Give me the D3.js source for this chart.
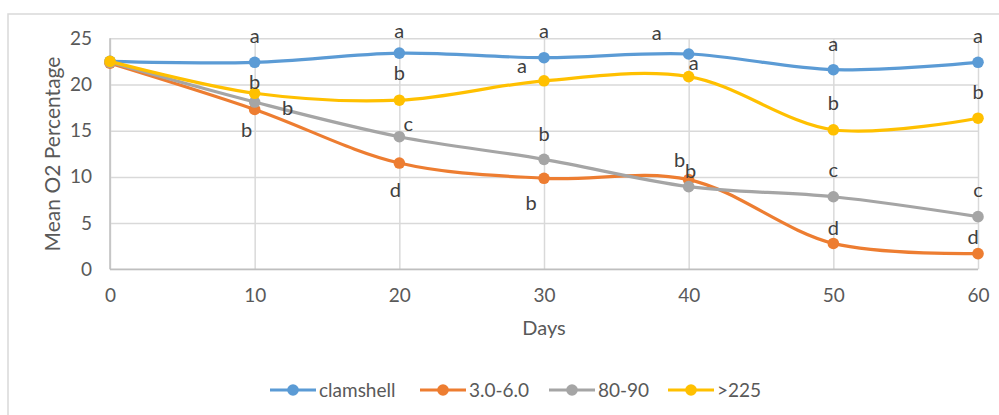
<!DOCTYPE html>
<html><head><meta charset="utf-8">
<script src="https://cdn.jsdelivr.net/npm/d3@7"></script>
<style>body{margin:0;background:#fff}svg{display:block}text{font-family:Lato,"Open Sans",sans-serif}</style>
</head><body><svg id="c" width="999" height="415"></svg>
<script>
const days = [0, 10, 20, 30, 40, 50, 60];
const seriesNames = ["clamshell", "3.0-6.0", "80-90", ">225"];
const clamshell = [22.5, 22.4, 23.4, 22.9, 23.3, 21.6, 22.4];
const size3to6 = [22.3, 17.3, 11.5, 9.85, 9.7, 2.8, 1.7];
const size80to90 = [22.4, 18.1, 14.35, 11.9, 8.95, 7.85, 5.7];
const sizeOver225 = [22.5, 19.05, 18.3, 20.4, 20.85, 15.1, 16.35];
const lettersClamshell = ["", "a", "a", "a", "a", "a", "a"];
const letters3to6 = ["", "b", "d", "b", "b", "d", "d"];
const letters80to90 = ["", "b", "c", "b", "b", "c", "c"];
const lettersOver225 = ["", "b", "b", "a", "a", "b", "b"];
const yTicks = [0, 5, 10, 15, 20, 25];
const xTicks = [0, 10, 20, 30, 40, 50, 60];

// layout / style (not data)
const colors = ["#5B9BD5", "#ED7D31", "#A5A5A5", "#FFC000"];
const labelOffsets = [
  [null, [0,-26], [0,-22], [0,-27], [-32,-21], [0,-26], [0,-26]],
  [null, [-8,21], [-4,27], [-13,25], [-9,-20], [0,-15], [-5,-17]],
  [null, [33,6], [9,-13], [0,-25], [2,-16], [0,-27], [0,-27]],
  [null, [0,-11], [0,-27], [-22,-15], [5,-14], [0,-27], [0,-26]]
];

const svg = d3.select("#c");
const x = d3.scaleLinear().domain([0,60]).range([110, 978]);
const y = d3.scaleLinear().domain([0,25]).range([269.3, 38.3]);

// frame
svg.append("rect").attr("x",8).attr("y",14).attr("width",1010).attr("height",420)
  .attr("fill","none").attr("stroke","#d9d9d9").attr("stroke-width",1.5);

// grid
const gy = svg.append("g").attr("transform","translate(110,0)")
  .call(d3.axisLeft(y).tickValues(yTicks).tickSize(-(978-110)).tickFormat(""));
gy.select(".domain").remove();
gy.selectAll("line").attr("stroke","#d9d9d9").attr("stroke-width",1.5);
const gx = svg.append("g").attr("transform","translate(0,269.3)")
  .call(d3.axisBottom(x).tickValues(xTicks).tickSize(-(269.3-38.3)).tickFormat(""));
gx.select(".domain").remove();
gx.selectAll("line").attr("stroke","#d9d9d9").attr("stroke-width",1.5);
// axis lines
svg.append("line").attr("x1",110).attr("x2",978).attr("y1",269.3).attr("y2",269.3).attr("stroke","#bfbfbf").attr("stroke-width",1.5);
svg.append("line").attr("x1",110).attr("x2",110).attr("y1",38.3).attr("y2",269.3).attr("stroke","#bfbfbf").attr("stroke-width",1.5);

// tick labels
const ay = svg.append("g").attr("transform","translate(110,0)")
  .call(d3.axisLeft(y).tickValues(yTicks).tickSize(0).tickPadding(18));
ay.select(".domain").remove();
ay.selectAll("text").attr("font-size",19).attr("fill","#595959").attr("font-family","Lato");
const ax = svg.append("g").attr("transform","translate(0,269.3)")
  .call(d3.axisBottom(x).tickValues(xTicks).tickSize(0).tickPadding(19));
ax.select(".domain").remove();
ax.selectAll("text").attr("font-size",19).attr("fill","#595959").attr("font-family","Lato");

// titles
svg.append("text").attr("transform","translate(60,154) rotate(-90)").attr("text-anchor","middle")
  .attr("font-size",21).attr("fill","#595959").text("Mean O2 Percentage");
svg.append("text").attr("x",544).attr("y",335).attr("text-anchor","middle")
  .attr("font-size",20).attr("fill","#595959").text("Days");

const allSeries = [clamshell, size3to6, size80to90, sizeOver225];
const allLetters = [lettersClamshell, letters3to6, letters80to90, lettersOver225];
const line = d3.line().x((d,i)=>x(days[i])).y(d=>y(d)).curve(d3.curveCatmullRom.alpha(0.5));

allSeries.forEach((s,k)=>{
  svg.append("path").datum(s).attr("d",line).attr("fill","none")
    .attr("stroke",colors[k]).attr("stroke-width",3.2).attr("stroke-linecap","round");
  svg.append("g").selectAll("circle").data(s).join("circle")
    .attr("cx",(d,i)=>x(days[i])).attr("cy",d=>y(d)).attr("r",5.8).attr("fill",colors[k]);
});

const labelData = [];
allSeries.forEach((s,k)=>s.forEach((v,i)=>{
  if (allLetters[k][i]) labelData.push({k, i, v, t: allLetters[k][i]});
}));
svg.append("g").selectAll("text").data(labelData).join("text")
  .attr("x",d=>x(days[d.i]) + labelOffsets[d.k][d.i][0])
  .attr("y",d=>y(d.v) + labelOffsets[d.k][d.i][1])
  .attr("dy","0.35em").attr("text-anchor","middle")
  .attr("font-size",20).attr("fill","#404040")
  .text(d=>d.t);

// legend
const legX = [270, 420, 549, 668];
seriesNames.forEach((n,k)=>{
  const g = svg.append("g").attr("transform",`translate(${legX[k]},390)`);
  g.append("line").attr("x1",0).attr("x2",46).attr("stroke",colors[k]).attr("stroke-width",3.2);
  g.append("circle").attr("cx",23).attr("r",5.8).attr("fill",colors[k]);
  g.append("text").attr("x",49).attr("dy","0.35em").attr("font-size",19).attr("fill","#595959").text(n);
});
</script></body></html>
